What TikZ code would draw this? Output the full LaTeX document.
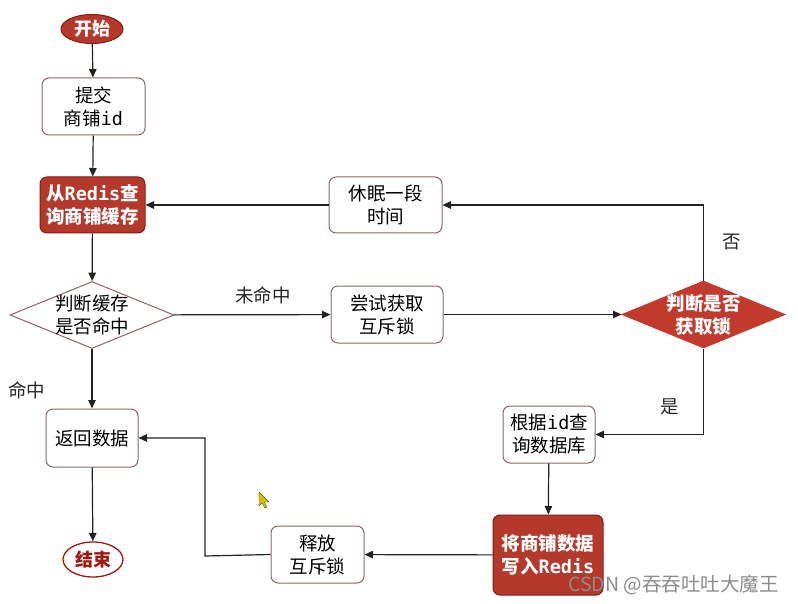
\documentclass[tikz,border=0pt]{standalone}
\usepackage{fontspec}
\setmainfont{Noto Sans CJK SC}
\newfontfamily\latmono{DejaVu Sans Mono}
\usetikzlibrary{shapes.geometric,arrows.meta}
\definecolor{boxred}{HTML}{B5392B}
\definecolor{diared}{HTML}{C23A2C}
\definecolor{darkrim}{HTML}{7E1E14}
\definecolor{rim}{HTML}{8A6666}
\definecolor{linec}{HTML}{222222}
\definecolor{endred}{HTML}{9C1A12}
\tikzset{
  every node/.style={font=\fontsize{18.5}{23}\selectfont, align=center, inner sep=0pt},
  wbox/.style={draw=rim, line width=1pt, fill=white, rounded corners=7pt},
  rbox/.style={draw=darkrim, line width=1pt, fill=boxred, rounded corners=7pt, text=white, font=\fontsize{18.5}{23}\selectfont\bfseries},
  wdia/.style={diamond, draw=rim, line width=1pt, fill=white},
  rdia/.style={diamond, draw=diared, line width=1pt, fill=diared},
  conn/.style={draw=linec, line width=1.2pt, -{Triangle[length=8.5pt,width=7.5pt]}},
  lbl/.style={text=black!85}
}
\begin{document}
\begin{tikzpicture}[x=1pt,y=-1pt]
\useasboundingbox[fill=white] (0,0) rectangle (798,604);
% nodes
\node[ellipse, draw=darkrim, line width=1pt, fill=boxred, text=white, minimum width=62pt, minimum height=29pt, font=\fontsize{18}{22}\selectfont\bfseries] (start) at (92,29) {开始};
\node[wbox, minimum width=103pt, minimum height=57pt] (submit) at (93.5,106.5) {提交\\商铺{\latmono id}};
\node[rbox, minimum width=105pt, minimum height=56pt] (query) at (92.5,205) {从{\latmono Redis}查\\询商铺缓存};
\node[wdia, minimum width=164pt, minimum height=67pt] (j1) at (92,315) {};
\node (j1t) at (j1) {判断缓存\\是否命中};
\node[wbox, minimum width=112pt, minimum height=57pt] (try) at (387,314.5) {尝试获取\\互斥锁};
\node[wbox, minimum width=113pt, minimum height=56pt] (sleep) at (385.5,205) {休眠一段\\时间};
\node[rdia, minimum width=163pt, minimum height=67pt] (j2) at (703.5,314.5) {};
\node[text=white, font=\fontsize{18.5}{23}\selectfont\bfseries] (j2t) at (j2) {判断是否\\获取锁};
\node[wbox, minimum width=92pt, minimum height=57pt] (db) at (549,434.5) {根据{\latmono id}查\\询数据库};
\node[rbox, minimum width=110pt, minimum height=80pt] (write) at (548,555) {将商铺数据\\写入{\latmono Redis}};
\node[wbox, minimum width=93pt, minimum height=57pt] (rel) at (317.5,554.5) {释放\\互斥锁};
\node[wbox, minimum width=92pt, minimum height=58pt] (ret) at (92,438) {返回数据};
\node[ellipse, draw=endred, line width=1.3pt, fill=white, text=endred, minimum width=60pt, minimum height=35pt, font=\fontsize{18}{22}\selectfont\bfseries] (end) at (93,559.5) {结束};
% labels
\node[lbl] (lmiss) at (263,295) {未命中};
\node[lbl] (lhit) at (27,390) {命中};
\node[lbl] (lno) at (732,242) {否};
\node[lbl] (lyes) at (670,407) {是};
% helper coordinate
\coordinate (back) at (205,556);
% connectors
\draw[conn] (start) -- (submit);
\draw[conn] (submit) -- (query);
\draw[conn] (query) -- (j1);
\draw[conn] (j1) -- (try);
\draw[conn] (try) -- (j2);
\draw[conn] (j2.north) |- (sleep.east);
\draw[conn] (sleep) -- (query);
\draw[conn] (j2.south) |- (db.east);
\draw[conn] (j1) -- (ret);
\draw[conn] (db) -- (write);
\draw[conn] (write) -- (rel);
\draw[conn] (rel.west) -- (back) -- (back |- ret.east) -- (ret.east);
\draw[conn] (ret) -- (end);
% cursor artefact
\fill[fill=yellow!55!olive, draw=olive!60!black, line width=0.4pt] (259,492) -- (259,506) -- (262,503) -- (265,508) -- (267,507) -- (264.5,502) -- (269,502) -- cycle;
% watermark
\node[text=black!45, font=\fontsize{19.5}{22}\selectfont, anchor=west] (wm) at (568,585) {CSDN @吞吞吐吐大魔王};
\end{tikzpicture}
\end{document}
